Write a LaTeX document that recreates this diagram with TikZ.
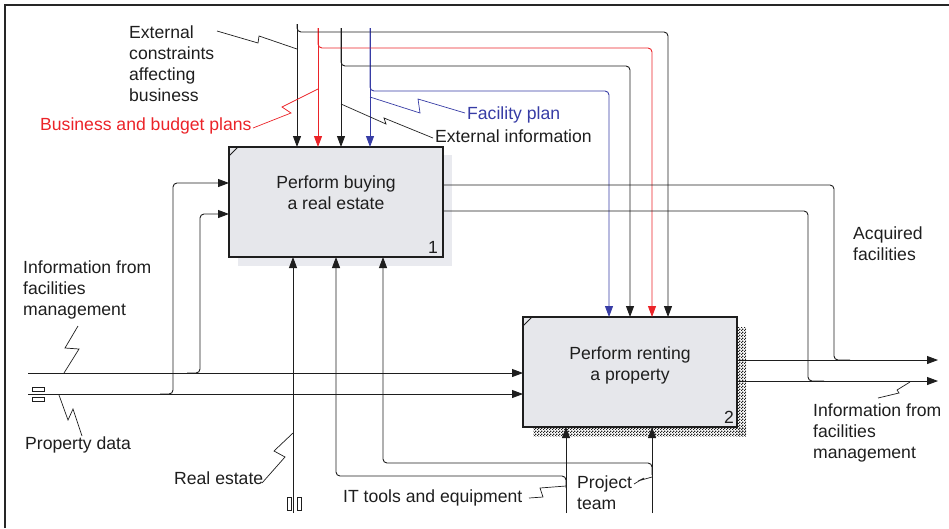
\documentclass[tikz,border=0pt]{standalone}
\usepackage{fontspec}
\setmainfont{Liberation Sans}
\usetikzlibrary{arrows.meta,patterns,calc}
\definecolor{ink}{RGB}{30,30,30}
\definecolor{ctrlred}{RGB}{235,35,40}
\definecolor{ctrlblue}{RGB}{55,60,165}
\definecolor{boxfill}{RGB}{230,231,235}
\definecolor{shadowfill}{RGB}{233,234,239}
% fine checker used for the shadow of an activity with detail beneath it
\pgfdeclarepatternformonly{idefchecker}{\pgfqpoint{0pt}{0pt}}{\pgfqpoint{3pt}{3pt}}{\pgfqpoint{3pt}{3pt}}{%
  \pgfpathrectangle{\pgfqpoint{0pt}{0pt}}{\pgfqpoint{1.5pt}{1.5pt}}%
  \pgfpathrectangle{\pgfqpoint{1.5pt}{1.5pt}}{\pgfqpoint{1.5pt}{1.5pt}}%
  \pgfusepath{fill}}
\begin{document}
\begin{tikzpicture}[x=1pt,y=-1pt,
  flow/.style={line width=0.9pt, draw=ink, rounded corners=4pt},
  arr/.style={flow, -{Triangle[length=11pt,width=8pt]}},
  squig/.style={line width=0.7pt, draw=ink},
  lbl/.style={inner sep=0pt, align=left, anchor=north west, text=ink,
              font=\fontsize{17.6}{21}\selectfont},
  boxtext/.style={inner sep=0pt, align=center, anchor=north, text=ink,
              font=\fontsize{17.6}{20.5}\selectfont},
  num/.style={inner sep=0pt, anchor=base east, text=ink,
              font=\fontsize{17.6}{21}\selectfont},
  activity/.style={draw=ink, line width=1.6pt, fill=boxfill,
              minimum width=214pt, minimum height=110pt, inner sep=0pt, outer sep=0pt},
  tunnel/.style={line width=0.6pt, draw=ink}]
\useasboundingbox (0,0) rectangle (949,528);

% frame
\draw[line width=1.6pt, draw=black!85] (5,528) -- (5,5) -- (949,5);

% activity 1 with its plain shadow
\fill[shadowfill] (238,155) rectangle (452,266);
\node[activity] (b1) at (336,202) {};
\draw[line width=1pt, draw=ink] (229,156) -- (238,147);
\node[boxtext] (t1) at (336,176) {Perform buying\\a real estate};
\node[num] (n1) at (438,253) {1};

% activity 2 with its checkered shadow
\fill[pattern=idefchecker, pattern color=ink] (737,327) rectangle (746,436);
\fill[pattern=idefchecker, pattern color=ink] (533,427) rectangle (746,436);
\node[activity] (b2) at (630,372) {};
\draw[line width=1pt, draw=ink] (523,326) -- (532,317);
\node[boxtext] (t2) at (630,347) {Perform renting\\a property};
\node[num] (n2) at (734,423) {2};

% control arrows from the top
\coordinate (c1) at (297,24);
\coordinate (c2) at (318,28);
\coordinate (c3) at (341,28);
\coordinate (c4) at (370,28);
\coordinate (k1) at (668,32);
\coordinate (k2) at (652,48);
\coordinate (k3) at (630,66);
\coordinate (k4) at (609,91);
\draw[arr] (c1) -- (c1 |- b1.north);
\draw[arr, draw=ctrlred] (c2) -- (c2 |- b1.north);
\draw[arr] (c3) -- (c3 |- b1.north);
\draw[arr, draw=ctrlblue] (c4) -- (c4 |- b1.north);
\draw[arr] (c1) |- (k1) -- (k1 |- b2.north);
\draw[arr, draw=ctrlred] (c2) |- (k2) -- (k2 |- b2.north);
\draw[arr] (c3) |- (k3) -- (k3 |- b2.north);
\draw[arr, draw=ctrlblue] (c4) |- (k4) -- (k4 |- b2.north);

% outputs
\coordinate (o1) at ($(b1.north east)+(0,38)$);
\coordinate (o2) at ($(b1.north east)+(0,64)$);
\coordinate (j1) at (834,360);
\coordinate (j2) at (808,381);
\coordinate (e1) at (938,360);
\coordinate (e2) at (938,381);
\draw[flow] (o1) -| (j1) -- ++(16,0);
\draw[flow] (o2) -| (j2) -- ++(16,0);
\draw[arr] (b2.east |- e1) -- (e1);
\draw[arr] (b2.east |- e2) -- (e2);

% inputs from the left
\coordinate (s1) at (28,373);
\coordinate (s2) at (28,394);
\coordinate (k5) at (173,183);
\coordinate (k6) at (200,214);
\draw[arr] (s1) -- (s1 -| b2.west);
\draw[arr] (s2) -- (s2 -| b2.west);
\draw[arr] (160,394) -| (k5) -- (k5 -| b1.west);
\draw[arr] (187,373) -| (k6) -- (k6 -| b1.west);
\draw[tunnel] (32,387) rectangle (44,391);
\draw[tunnel] (32,397) rectangle (44,401);

% mechanisms from the bottom
\coordinate (m1) at (293,513);
\coordinate (m2) at (566,513);
\coordinate (m3) at (652,513);
\coordinate (k7) at (336,476);
\coordinate (k8) at (383,463);
\draw[arr] (m1) -- (m1 |- b1.south);
\draw[arr] (m2) -- (m2 |- b2.south);
\draw[arr] (m3) -- (m3 |- b2.south);
\draw[arr] (566,488) |- (k7) -- (k7 |- b1.south);
\draw[arr] (652,475) |- (k8) -- (k8 |- b1.south);
\draw[tunnel] (287,497) rectangle (291,510);
\draw[tunnel] (297,497) rectangle (301,510);

% labels
\node[lbl] (l1) at (129,26) {External\\constraints\\affecting\\business};
\node[lbl, text=ctrlred] (l2) at (40,118) {Business and budget plans};
\node[lbl, text=ctrlblue] (l3) at (467,107) {Facility plan};
\node[lbl] (l4) at (435,130) {External information};
\node[lbl] (l5) at (853,227) {Acquired\\facilities};
\node[lbl] (l6) at (813,404) {Information from\\facilities\\management};
\node[lbl] (l7) at (23,261) {Information from\\facilities\\management};
\node[lbl] (l8) at (25,437) {Property data};
\node[lbl] (l9) at (174,472) {Real estate};
\node[lbl] (l10) at (343,490) {IT tools and equipment};
\node[lbl] (l11) at (577,476) {Project\\team};

% squiggles tying labels to their arrows
\draw[squig] (217,31) -- (258,43) -- (259,36) -- (297,49);
\draw[squig, draw=ctrlred] (253,128) -- (291,113) -- (282,107) -- (318,89);
\draw[squig, draw=ctrlblue] (370,97) -- (420,113) -- (418,99) -- (465,113);
\draw[squig] (341,104) -- (386,124) -- (384,118) -- (433,138);
\draw[squig] (910,382) -- (897,390) -- (899,393) -- (878,398);
\draw[squig] (78,326) -- (65,348) -- (79,349) -- (64,373);
\draw[squig] (59,395) -- (68,420) -- (73,409) -- (82,436);
\draw[squig] (262,483) -- (285,457) -- (274,451) -- (293,433);
\draw[squig] (529,498) -- (543,497) -- (540,488) -- (566,486);
\draw[squig] (634,484) -- (644,478) -- (638,481) -- (652,477);
\end{tikzpicture}
\end{document}
